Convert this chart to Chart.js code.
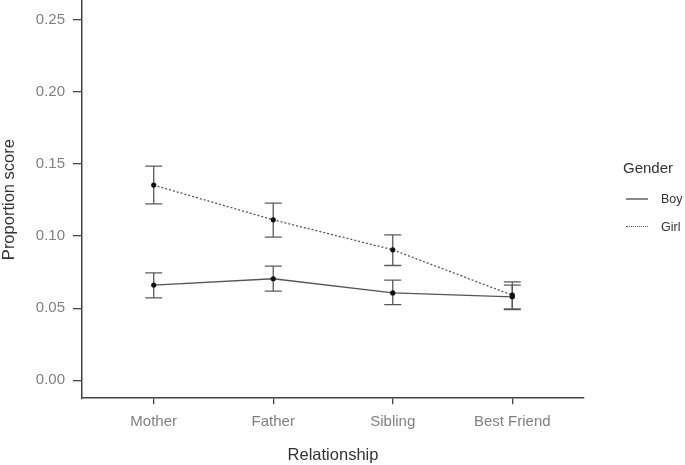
<!DOCTYPE html>
<html>
<head>
<meta charset="utf-8">
<script src="https://cdn.jsdelivr.net/npm/chart.js@4"></script>
<style>
    body { margin: 0; background: #fff; font-family: Arial, "Liberation Sans", sans-serif; }
    #wrap { position: relative; width: 685px; height: 465px; overflow: hidden; }
    #chart { position: absolute; left: 0; top: -3px; }
    #legend { position: absolute; left: 623px; top: 159px; color: #333; }
    #legend .title { font-size: 15px; margin-bottom: 9px; }
    #legend .item { font-size: 12.5px; height: 29px; display: flex; align-items: center; }
    #legend .key { width: 22px; margin: 0 13px 0 3px; border-top: 2px solid #888; }
    #legend .key.dot { border-top: 1.5px dotted #555; }
</style>
</head>
<body>
<div id="wrap">
    <canvas id="chart" width="685" height="468"></canvas>
    <div id="legend">
        <div class="title">Gender</div>
        <div class="item" style="height:27px"><span class="key"></span>Boy</div>
        <div class="item"><span class="key dot"></span>Girl</div>
    </div>
</div>
<script>
// Data
const categories = ['Mother', 'Father', 'Sibling', 'Best Friend'];
const yTicks = [0, 0.05, 0.10, 0.15, 0.20, 0.25];

const boyMean = [0.066, 0.0704, 0.0606, 0.0579];
const boyLow  = [0.0572, 0.0618, 0.0525, 0.049];
const boyHigh = [0.0745, 0.0792, 0.0694, 0.066];

const girlMean = [0.1354, 0.1113, 0.0905, 0.059];
const girlLow  = [0.1224, 0.0993, 0.0796, 0.0495];
const girlHigh = [0.1486, 0.1229, 0.1009, 0.0683];

const FONT = 'Arial, "Liberation Sans", sans-serif';

function toPoints(vals, lo, hi) {
    return vals.map((v, i) => ({ x: i + 1, y: v, lo: lo[i], hi: hi[i] }));
}

// Draw error bars from the low/high values through the scales
const errorBars = {
    id: 'errorBars',
    beforeDatasetsDraw(chart) {
        const { ctx, scales } = chart;
        ctx.save();
        ctx.strokeStyle = '#5a5a5a';
        ctx.lineWidth = 1.3;
        chart.data.datasets.forEach(ds => {
            ds.data.forEach(p => {
                const x = scales.x.getPixelForValue(p.x);
                const yl = scales.y.getPixelForValue(p.lo);
                const yh = scales.y.getPixelForValue(p.hi);
                ctx.beginPath();
                ctx.moveTo(x, yl); ctx.lineTo(x, yh);
                ctx.moveTo(x - 8.5, yl); ctx.lineTo(x + 8.5, yl);
                ctx.moveTo(x - 8.5, yh); ctx.lineTo(x + 8.5, yh);
                ctx.stroke();
            });
        });
        ctx.restore();
    }
};

new Chart(document.getElementById('chart'), {
    type: 'line',
    data: {
        datasets: [
            {
                label: 'Boy',
                data: toPoints(boyMean, boyLow, boyHigh),
                borderColor: '#555',
                borderWidth: 1.3,
                pointRadius: 2.6,
                pointBackgroundColor: '#111',
                pointBorderWidth: 0
            },
            {
                label: 'Girl',
                data: toPoints(girlMean, girlLow, girlHigh),
                borderColor: '#555',
                borderWidth: 1.3,
                borderDash: [2, 2],
                pointRadius: 2.6,
                pointBackgroundColor: '#111',
                pointBorderWidth: 0
            }
        ]
    },
    options: {
        responsive: false,
        animation: false,
        layout: { padding: { top: 0, right: 101, left: 0, bottom: 0 } },
        plugins: { legend: { display: false }, tooltip: { enabled: false } },
        scales: {
            x: {
                type: 'linear',
                min: 0.4,
                max: 4.6,
                afterBuildTicks: scale => { scale.ticks = categories.map((_, i) => ({ value: i + 1 })); },
                grid: { drawOnChartArea: false, drawTicks: true, tickLength: 6, color: '#444', lineWidth: 1.3 },
                border: { color: '#444', width: 1.5 },
                ticks: {
                    color: '#808080',
                    font: { size: 15, family: FONT },
                    padding: 9,
                    maxRotation: 0,
                    callback: v => categories[v - 1]
                },
                title: {
                    display: true,
                    text: 'Relationship',
                    color: '#333',
                    font: { size: 16.5, family: FONT },
                    padding: { top: 5, bottom: 0 }
                }
            },
            y: {
                min: -0.0125,
                max: 0.2632,
                afterBuildTicks: scale => { scale.ticks = yTicks.map(v => ({ value: v })); },
                afterFit: scale => { scale.paddingTop = 0; scale.paddingBottom = 0; },
                grid: { drawOnChartArea: false, drawTicks: true, tickLength: 9, color: '#444', lineWidth: 1.3 },
                border: { color: '#444', width: 1.5 },
                ticks: {
                    color: '#808080',
                    font: { size: 15, family: FONT },
                    padding: 8,
                    callback: v => v.toFixed(2)
                },
                title: {
                    display: true,
                    text: 'Proportion score',
                    color: '#333',
                    font: { size: 16.5, family: FONT },
                    padding: { top: 0, bottom: 8 }
                }
            }
        }
    },
    plugins: [errorBars]
});
</script>
</body>
</html>
